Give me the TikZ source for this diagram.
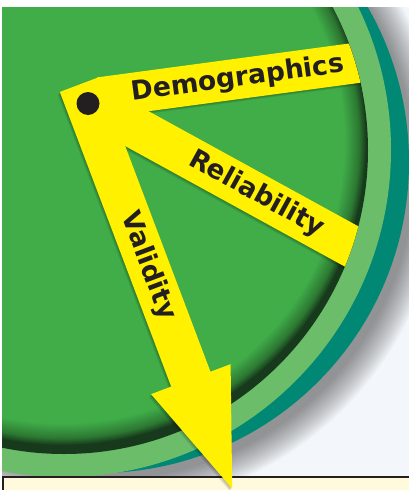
\documentclass[tikz,border=0pt]{standalone}
\usepackage{fontspec}
\newfontfamily\labfont{DejaVu Sans}
\usetikzlibrary{calc}
\definecolor{grn}{RGB}{64,173,73}
\definecolor{rimmid}{RGB}{44,120,50}
\definecolor{rimdark}{RGB}{24,58,28}
\definecolor{ringc}{RGB}{108,189,106}
\definecolor{tealc}{RGB}{0,136,116}
\definecolor{yel}{RGB}{255,241,0}
\definecolor{ink}{RGB}{35,31,32}
\definecolor{boxfill}{RGB}{255,250,220}
\definecolor{bgc}{RGB}{243,246,250}
\pgfdeclareradialshading{rimshade}{\pgfpoint{0bp}{0bp}}{color(0bp)=(grn); color(23.2bp)=(grn); color(24.4bp)=(rimmid); color(25bp)=(rimdark); color(50bp)=(rimdark)}
\begin{document}
\begin{tikzpicture}[x=1pt,y=-1pt,
  lab/.style={font=\labfont\bfseries\fontsize{26.5}{28}\selectfont, text=ink, inner sep=0pt},
  shadowfill/.style={fill=black, opacity=0.09},
  barfill/.style={fill=yel}]
\useasboundingbox (0,0) rectangle (409,490);
\fill[white] (0,0) rectangle (409,490);
\coordinate (C) at (64,150);
\coordinate (T) at (98,162);
\coordinate (S) at (79.5,84.5);
\coordinate (PD) at (88,99);
\coordinate (PR) at (88,101.8);
\begin{scope}
  \clip (2,7) rectangle (409,490);
  \fill[bgc] (2,7) rectangle (409,490);
  % drop shadow of the disc
  \foreach \i in {0,...,14}
    \fill[black,opacity=0.03] ($(T)+(6,7)$) circle ({311+2*\i});
  % teal rim, light ring, inner disc
  \fill[tealc] (T) circle (311);
  \fill[ringc] (C) circle (327);
  \fill[rimdark] (C) circle (304);
  \begin{scope}
    \clip (C) circle (304);
    \shade[shading=rimshade] ($(C)+(-2,-9)$) circle (304);
    % shadows of the two short bars
    \foreach \s in {1,2,3} {
      \begin{scope}[shift={($(PD)+(-0.6*\s,0.9*\s)$)}, rotate=7.66]
        \fill[shadowfill] (12,-20.2) rectangle (300,20.2);
      \end{scope}
      \begin{scope}[shift={($(PR)+(-0.6*\s,0.9*\s)$)}, rotate=-28.76]
        \fill[shadowfill] (0,-20.9) rectangle (320,20.9);
      \end{scope}
    }
    \begin{scope}[shift={(PD)}, rotate=7.66]
      \fill[barfill] (12,-20.2) rectangle (300,20.2);
    \end{scope}
    \begin{scope}[shift={(PR)}, rotate=-28.76]
      \fill[barfill] (0,-20.9) rectangle (320,20.9);
    \end{scope}
  \end{scope}
  \node[lab, rotate=7.66] (demo) at (238,79) {Demographics};
  \node[lab, rotate=-28.76] (rel) at (256.5,194) {Reliability};
\end{scope}
% text box at the bottom
\draw[line width=2pt, draw=ink, fill=boxfill] (2.8,476.8) rectangle (440,530);
% shadow of the Validity arrow
\foreach \s in {1,2,3} {
  \begin{scope}[shift={($(S)+(-0.7*\s,1.0*\s)$)}, rotate=-69.3]
    \fill[shadowfill] (0,-21) -- (315,-21) -- (315,-42.5) -- (432,0) -- (315,42.5) -- (315,21) -- (0,21) -- cycle;
  \end{scope}
}
\begin{scope}[shift={(S)}, rotate=-69.3]
  \fill[barfill] (0,-21) -- (315,-21) -- (315,-42.5) -- (432,0) -- (315,42.5) -- (315,21) -- (0,21) -- cycle;
\end{scope}
\node[circle, fill=ink, minimum size=23pt, inner sep=0pt] (dot) at (88,103.5) {};
\node[lab, rotate=-69.3] (val) at (148,266) {Validity};
\end{tikzpicture}
\end{document}
